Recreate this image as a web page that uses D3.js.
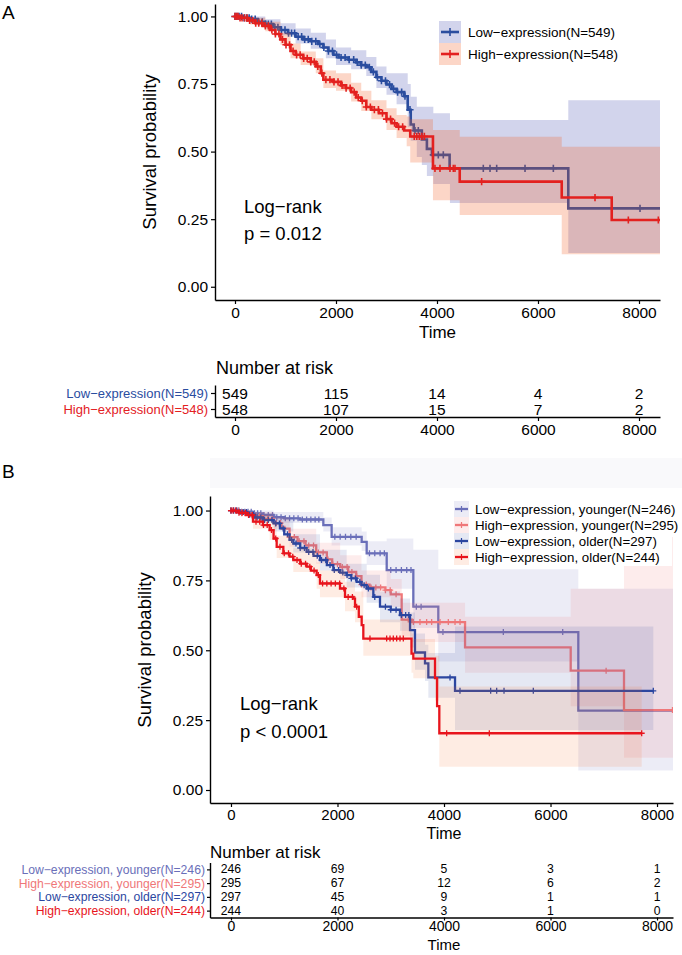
<!DOCTYPE html>
<html><head><meta charset="utf-8">
<script src="https://cdn.jsdelivr.net/npm/d3@7"></script>
<style>body{margin:0;background:#fff} svg{display:block} text{font-family:"Liberation Sans",Arial,Helvetica,sans-serif}</style>
</head><body><svg id="c" width="682" height="955"></svg>
<script>
// ---------- DATA ----------
const timeTicks = [0, 2000, 4000, 6000, 8000];
const survTicks = [0, 0.25, 0.5, 0.75, 1];

// Panel A
const aGroups = ["Low-expression(N=549)", "High-expression(N=548)"];
const aLowT = [0,150,300,450,600,750,900,1050,1200,1350,1500,1650,1750,1850,1950,2050,2250,2400,2500,2600,2700,2800,2900,3000,3100,3200,3350,3420,3480,3540,3700,3800,3900,4250,6600];
const aLowS = [1,0.995,0.99,0.98,0.972,0.96,0.95,0.938,0.925,0.915,0.908,0.898,0.885,0.872,0.858,0.848,0.84,0.83,0.82,0.812,0.795,0.775,0.762,0.748,0.732,0.72,0.705,0.655,0.6,0.578,0.545,0.51,0.488,0.438,0.29];
const aHighT = [0,100,250,400,550,700,800,900,1000,1100,1200,1350,1500,1600,1700,1750,1950,2100,2200,2300,2400,2500,2600,2700,2850,3000,3100,3200,3350,3470,3920,4450,6470,7460];
const aHighS = [1,0.995,0.985,0.975,0.965,0.95,0.935,0.915,0.895,0.872,0.858,0.845,0.832,0.815,0.79,0.766,0.758,0.745,0.735,0.72,0.70,0.688,0.665,0.655,0.642,0.62,0.605,0.592,0.578,0.556,0.438,0.389,0.33,0.247];
const aLowBand = [[0,1,1],[300,.975,1],[600,.955,.99],[900,.93,.975],[1200,.9,.955],[1500,.88,.94],[1800,.845,.915],[2000,.82,.885],[2300,.805,.875],[2600,.78,.85],[2800,.735,.815],[3000,.71,.79],[3200,.675,.79],[3420,.59,.75],[3480,.54,.703],[3600,.48,.666],[3700,.45,.666],[3800,.41,.666],[3927,.38,.642],[4257,.31,.617],[6600,.125,.69]];
const aHighBand = [[0,1,1],[300,.97,.995],[600,.945,.98],[900,.895,.94],[1100,.845,.9],[1300,.82,.87],[1600,.79,.845],[1750,.735,.8],[2000,.725,.79],[2300,.685,.755],[2500,.65,.725],[2700,.62,.69],[3000,.58,.66],[3200,.55,.635],[3400,.52,.63],[3470,.46,.62],[3920,.32,.58],[4450,.265,.555],[6470,.12,.518]];
const aLowCens = [0,40,80,130,180,230,280,330,400,470,540,600,660,720,790,850,920,990,1060,1120,1180,1250,1320,1380,1450,1520,1600,1680,1760,1850,1930,2010,2100,2180,2260,2350,2420,2500,2580,2660,2740,2820,2900,2980,3060,3140,3220,3300,3366,3465,3564,3630,3927,4026,4125,4917,5050,5182,5743,6304,8020];
const aHighCens = [0,30,60,100,140,190,240,290,350,410,470,530,600,660,730,800,870,940,1010,1080,1150,1220,1290,1360,1430,1500,1570,1640,1720,1800,1880,1960,2040,2120,2200,2280,2360,2440,2520,2600,2680,2760,2840,2920,3000,3080,3160,3240,3320,3550,3600,3650,3700,3750,3960,4059,4257,4323,4356,4884,7129,7789,8383];
const aRiskLow = [549, 115, 14, 4, 2];
const aRiskHigh = [548, 107, 15, 7, 2];

// Panel B
const bGroups = ["Low-expression, younger(N=246)", "High-expression, younger(N=295)", "Low-expression, older(N=297)", "High-expression, older(N=244)"];
const bLYT = [0,200,400,600,800,1000,1300,1734,1890,2454,2548,2924,3424,3893,6522];
const bLYS = [1,0.996,0.99,0.984,0.976,0.972,0.968,0.948,0.906,0.888,0.847,0.787,0.656,0.565,0.284];
const bHYT = [0,200,400,600,800,950,1100,1250,1400,1600,1800,1900,2050,2200,2350,2450,2600,2900,3000,3205,3400,4395,6379,7380];
const bHYS = [1,0.99,0.98,0.97,0.955,0.935,0.905,0.89,0.875,0.85,0.825,0.808,0.798,0.78,0.765,0.735,0.725,0.715,0.70,0.61,0.601,0.51,0.427,0.286];
const bLOT = [0,150,300,450,600,800,920,1000,1100,1170,1300,1421,1550,1671,1800,1922,2050,2172,2260,2360,2450,2548,2673,2798,3000,3174,3362,3455,3643,3706,4207];
const bLOS = [1,0.995,0.985,0.975,0.966,0.954,0.936,0.915,0.895,0.882,0.866,0.852,0.838,0.823,0.805,0.787,0.778,0.769,0.757,0.745,0.733,0.721,0.691,0.656,0.645,0.626,0.572,0.492,0.453,0.403,0.355];
const bHOT = [0,150,288,413,600,726,800,858,983,1100,1170,1300,1421,1500,1609,1671,2047,2141,2297,2329,2400,2454,2485,3390,3424,3831,3870,3912];
const bHOS = [1,0.992,0.984,0.96,0.948,0.93,0.9,0.87,0.847,0.835,0.823,0.81,0.799,0.785,0.769,0.739,0.721,0.691,0.685,0.656,0.62,0.59,0.542,0.488,0.47,0.40,0.30,0.203];
const bLYBand = [[0,1,1],[400,.975,1],[800,.955,.995],[1734,.925,.975],[1890,.875,.94],[2454,.855,.925],[2548,.805,.89],[2924,.72,.9],[3424,.58,.86],[3893,.46,.79],[6522,.07,.72]];
const bHYBand = [[0,1,1],[400,.965,.995],[800,.935,.975],[1100,.87,.935],[1600,.81,.885],[2050,.755,.84],[2450,.69,.785],[3000,.655,.755],[3205,.55,.67],[3400,.53,.67],[4395,.42,.62],[6379,.3,.72],[7380,.115,.905]];
const bLOBand = [[0,1,1],[400,.965,.99],[800,.925,.975],[1170,.85,.915],[1671,.785,.86],[2172,.725,.81],[2548,.67,.77],[2798,.6,.71],[3174,.57,.685],[3362,.51,.635],[3455,.43,.56],[3643,.39,.52],[3706,.33,.49],[4207,.215,.585]];
const bHOBand = [[0,1,1],[413,.935,.985],[726,.895,.96],[858,.83,.91],[1170,.78,.865],[1609,.72,.815],[1671,.69,.785],[2141,.64,.745],[2329,.6,.71],[2485,.48,.61],[3390,.42,.56],[3424,.4,.54],[3831,.32,.48],[3912,.083,.37]];
const bLYCens = [0,50,100,150,200,260,320,380,440,500,560,620,700,780,860,940,1020,1100,1180,1260,1340,1420,1500,1580,1650,1950,2050,2150,2250,2350,2600,2700,2800,2880,3000,3100,3200,3300,3380,3480,3570,3980,5114,6229];
const bHYCens = [0,40,90,140,200,260,330,400,470,540,610,690,770,850,930,1010,1100,1190,1280,1370,1460,1550,1640,1730,1820,1910,2000,2090,2180,2270,2360,2450,2540,2630,2720,2810,2900,2990,3100,3329,3424,3549,3674,3768,3925,4081,4207,4301,7044,8290];
const bLOCens = [0,50,110,170,230,290,350,420,490,560,630,700,770,840,910,980,1060,1140,1220,1300,1380,1460,1540,1620,1700,1780,1860,1940,2020,2100,2180,2260,2340,2420,2500,2580,2700,2900,3000,3100,3200,3280,3340,4113,4300,4876,4989,5127,5677,7930];
const bHOCens = [0,40,90,150,210,270,330,400,470,540,610,680,760,840,920,1000,1080,1160,1240,1320,1400,1480,1560,1640,1720,1800,1880,1960,2040,2120,2200,2280,2360,2610,2923,2986,3048,3111,3174,3236,4050,4851,7712];
const bRisk = [[246,69,5,3,1],[295,67,12,6,2],[297,45,9,1,1],[244,40,3,1,0]];

// ---------- DRAW ----------
const svg = d3.select("#c");
const FONT = '"Liberation Sans",Arial,Helvetica,sans-serif';
const fmtT = d3.format("d");

function stepAt(times, surv, t) {
  let s = surv[0];
  for (let i = 0; i < times.length; i++) if (times[i] <= t) s = surv[i];
  return s;
}

function km(g, x, y, o) {
  const lb = o.band[o.band.length - 1];
  const bd = o.band.concat([[o.end, lb[1], lb[2]]]);
  g.append("path").datum(bd)
    .attr("d", d3.area().x(d => x(d[0])).y0(d => y(d[1])).y1(d => y(d[2])).curve(d3.curveStepAfter))
    .attr("fill", o.fill).attr("fill-opacity", o.op).attr("stroke", "none");
  const pts = o.t.map((t, i) => [t, o.s[i]]).concat([[o.end, o.s[o.s.length - 1]]]);
  g.append("path").datum(pts)
    .attr("d", d3.line().x(d => x(d[0])).y(d => y(d[1])).curve(d3.curveStepAfter))
    .attr("fill", "none").attr("stroke", o.color).attr("stroke-width", o.lw).attr("stroke-linejoin", "miter");
  const h = o.cs;
  g.append("g").selectAll("path").data(o.cens).join("path")
    .attr("d", c => { const px = x(c), py = y(stepAt(o.t, o.s, c)); return `M${px - h},${py}H${px + h}M${px},${py - h}V${py + h}`; })
    .attr("stroke", o.color).attr("stroke-width", o.cw).attr("fill", "none");
}

function styleAxis(ax, fs) {
  ax.select(".domain").attr("stroke", "#000").attr("stroke-width", 1.4);
  ax.selectAll(".tick line").attr("stroke", "#000").attr("stroke-width", 1.2);
  ax.selectAll(".tick text").attr("fill", "#000").attr("font-size", fs).attr("font-family", FONT);
}

// ---------------- PANEL A ----------------
const xA = d3.scaleLinear().domain([-396, 8416]).range([215, 660]);
const yA = d3.scaleLinear().domain([-0.049, 1.046]).range([300, 4]);
svg.append("text").attr("x", 2).attr("y", 19).attr("font-size", 19).text("A");
svg.append("clipPath").attr("id", "clipA").append("rect").attr("x", 215).attr("y", 4).attr("width", 445).attr("height", 296);
const gA = svg.append("g").attr("clip-path", "url(#clipA)");
const aSeries = [
  {t: aLowT, s: aLowS, band: aLowBand, cens: aLowCens, end: 8420, color: "#2a4d9f", fill: "#4a55b5", op: 0.25},
  {t: aHighT, s: aHighS, band: aHighBand, cens: aHighCens, end: 8420, color: "#e3211f", fill: "#f25a1e", op: 0.25}
];
aSeries.forEach(o => km(gA, xA, yA, Object.assign({lw: 2.6, cs: 3.6, cw: 1.6}, o)));

const axAy = svg.append("g").attr("transform", "translate(215,0)")
  .call(d3.axisLeft(yA).tickValues(survTicks).tickFormat(d3.format(".2f")).tickSize(4).tickSizeOuter(0).tickPadding(3));
styleAxis(axAy, 15.5);
const axAx = svg.append("g").attr("transform", "translate(0,300)")
  .call(d3.axisBottom(xA).tickValues(timeTicks).tickFormat(fmtT).tickSize(4).tickSizeOuter(0).tickPadding(3));
styleAxis(axAx, 15.5);
svg.append("text").attr("x", 437.5).attr("y", 338).attr("text-anchor", "middle").attr("font-size", 17).text("Time");
svg.append("text").attr("transform", "translate(156,152) rotate(-90)").attr("text-anchor", "middle").attr("font-size", 18.5).text("Survival probability");
svg.append("text").attr("x", 244).attr("y", 213).attr("font-size", 18.5).text("Log\u2212rank");
svg.append("text").attr("x", 244).attr("y", 240).attr("font-size", 18.5).text("p = 0.012");

// legend A
const legA = svg.append("g");
aSeries.forEach((o, i) => {
  const cy = 32 + i * 22;
  legA.append("rect").attr("x", 439).attr("y", cy - 11).attr("width", 22).attr("height", 22).attr("fill", o.fill).attr("fill-opacity", o.op);
  legA.append("line").attr("x1", 441).attr("x2", 459).attr("y1", cy).attr("y2", cy).attr("stroke", o.color).attr("stroke-width", 2.6);
  legA.append("line").attr("x1", 450).attr("x2", 450).attr("y1", cy - 4).attr("y2", cy + 4).attr("stroke", o.color).attr("stroke-width", 1.6);
  legA.append("text").attr("x", 468).attr("y", cy + 5).attr("font-size", 13.5).text(aGroups[i].replace(/-/g, "\u2212"));
});

// risk table A
svg.append("text").attr("x", 216).attr("y", 374).attr("font-size", 18).text("Number at risk");
const aRowColors = ["#2a4d9f", "#e3211f"];
const rA = d3.scalePoint().domain(aGroups).range([385, 417]).padding(0.5);
const axRAy = svg.append("g").attr("transform", "translate(215,0)")
  .call(d3.axisLeft(rA).tickSize(4).tickSizeOuter(0).tickPadding(3).tickFormat(d => d.replace(/-/g, "\u2212")));
styleAxis(axRAy, 13);
axRAy.selectAll(".tick text").attr("fill", (d, i) => aRowColors[i]);
const axRAx = svg.append("g").attr("transform", "translate(0,417)")
  .call(d3.axisBottom(xA).tickValues(timeTicks).tickFormat(fmtT).tickSize(4).tickSizeOuter(0).tickPadding(3));
styleAxis(axRAx, 15.5);
[aRiskLow, aRiskHigh].forEach((row, i) => {
  svg.append("g").selectAll("text").data(row).join("text")
    .attr("x", (d, j) => xA(timeTicks[j])).attr("y", rA(aGroups[i]) + 5.5)
    .attr("text-anchor", "middle").attr("font-size", 15.5).text(d => d);
});

// ---------------- PANEL B ----------------
const xB = d3.scaleLinear().domain([-394, 8300]).range([210, 673]);
const yB = d3.scaleLinear().domain([-0.0465, 1.052]).range([803, 496]);
svg.append("rect").attr("x", 210).attr("y", 458).attr("width", 472).attr("height", 30).attr("fill", "#f9f9fb");
svg.append("text").attr("x", 2).attr("y", 478).attr("font-size", 19).text("B");
svg.append("clipPath").attr("id", "clipB").append("rect").attr("x", 210).attr("y", 496).attr("width", 463).attr("height", 307);
const gB = svg.append("g").attr("clip-path", "url(#clipB)");
const bSeries = [
  {t: bLYT, s: bLYS, band: bLYBand, cens: bLYCens, end: 8300, color: "#6a6fb9", fill: "#6b6fb8", op: 0.13},
  {t: bHYT, s: bHYS, band: bHYBand, cens: bHYCens, end: 8300, color: "#ef7779", fill: "#f07f82", op: 0.15},
  {t: bLOT, s: bLOS, band: bLOBand, cens: bLOCens, end: 7930, color: "#2b46a0", fill: "#2b3f9b", op: 0.12},
  {t: bHOT, s: bHOS, band: bHOBand, cens: bHOCens, end: 7712, color: "#e8141c", fill: "#f46a2a", op: 0.13}
];
bSeries.forEach(o => km(gB, xB, yB, Object.assign({lw: 2.3, cs: 3, cw: 1.3}, o)));

const axBy = svg.append("g").attr("transform", "translate(210,0)")
  .call(d3.axisLeft(yB).tickValues(survTicks).tickFormat(d3.format(".2f")).tickSize(4).tickSizeOuter(0).tickPadding(3));
styleAxis(axBy, 15.5);
const axBx = svg.append("g").attr("transform", "translate(0,803)")
  .call(d3.axisBottom(xB).tickValues(timeTicks).tickFormat(fmtT).tickSize(4).tickSizeOuter(0).tickPadding(2));
styleAxis(axBx, 15);
svg.append("text").attr("x", 444).attr("y", 838.5).attr("text-anchor", "middle").attr("font-size", 16).text("Time");
svg.append("text").attr("transform", "translate(151,650) rotate(-90)").attr("text-anchor", "middle").attr("font-size", 18.5).text("Survival probability");
svg.append("text").attr("x", 240).attr("y", 710).attr("font-size", 18.5).text("Log\u2212rank");
svg.append("text").attr("x", 240).attr("y", 738).attr("font-size", 18.5).text("p < 0.0001");

// legend B
const legB = svg.append("g");
legB.append("rect").attr("x", 450).attr("y", 500).attr("width", 222).attr("height", 66).attr("fill", "#fff");
bSeries.forEach((o, i) => {
  const cy = 509 + i * 16;
  legB.append("rect").attr("x", 454).attr("y", cy - 8).attr("width", 15).attr("height", 16).attr("fill", o.fill).attr("fill-opacity", o.op);
  legB.append("line").attr("x1", 455).attr("x2", 468).attr("y1", cy).attr("y2", cy).attr("stroke", o.color).attr("stroke-width", 2.3);
  legB.append("line").attr("x1", 461.5).attr("x2", 461.5).attr("y1", cy - 3).attr("y2", cy + 3).attr("stroke", o.color).attr("stroke-width", 1.2);
  legB.append("text").attr("x", 475).attr("y", cy + 4.7).attr("font-size", 13.3).text(bGroups[i].replace(/-/g, "\u2212"));
});

// risk table B
svg.append("text").attr("x", 210).attr("y", 858).attr("font-size", 17).text("Number at risk");
const rB = d3.scalePoint().domain(bGroups).range([862.5, 917.5]).padding(0.5);
const rowFs = 12.2;
const axRBy = svg.append("g").attr("transform", "translate(210,0)")
  .call(d3.axisLeft(rB).tickSize(3).tickSizeOuter(0).tickPadding(2).tickFormat(d => d.replace(/-/g, "\u2212")));
styleAxis(axRBy, rowFs);
axRBy.selectAll(".tick text").attr("fill", (d, i) => bSeries[i].color);
const axRBx = svg.append("g").attr("transform", "translate(0,917.5)")
  .call(d3.axisBottom(xB).tickValues(timeTicks).tickFormat(fmtT).tickSize(3).tickSizeOuter(0).tickPadding(1));
styleAxis(axRBx, 14);
bRisk.forEach((row, i) => {
  svg.append("g").selectAll("text").data(row).join("text")
    .attr("x", (d, j) => xB(timeTicks[j])).attr("y", rB(bGroups[i]) + 0.33 * rowFs)
    .attr("text-anchor", "middle").attr("font-size", rowFs).text(d => d);
});
svg.append("text").attr("x", 444).attr("y", 950).attr("text-anchor", "middle").attr("font-size", 15).text("Time");
</script></body></html>
